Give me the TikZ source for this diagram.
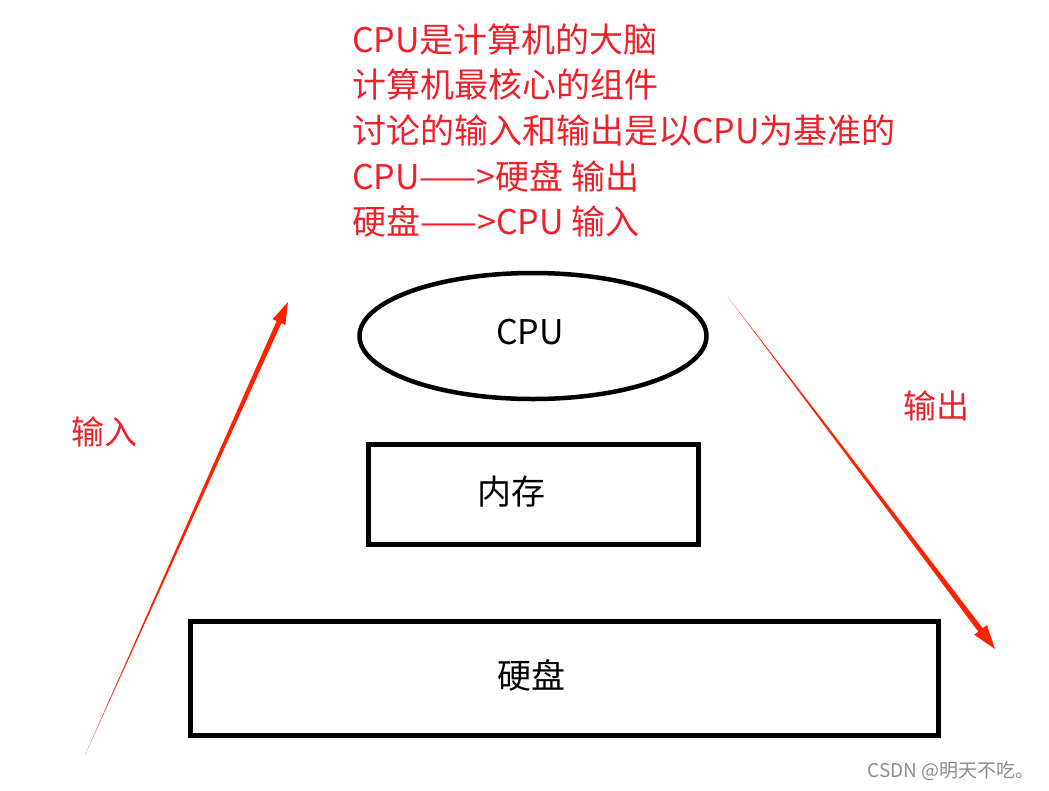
\documentclass[tikz,border=0pt]{standalone}
\usepackage{fontspec}
\newfontfamily\cjk{Noto Sans CJK SC}
\usetikzlibrary{calc,shapes.geometric}
\definecolor{txtred}{HTML}{F0202A}
\definecolor{arrred}{HTML}{FF2200}
\begin{document}
\begin{tikzpicture}[x=1pt,y=-1pt,
  redtxt/.style={text=txtred,font=\cjk\fontsize{34}{40}\selectfont,inner sep=0pt,anchor=base west},
  boxtxt/.style={font=\cjk\fontsize{34}{40}\selectfont,text=black},
  unit/.style={draw=black,line width=4.5pt},
  lbl/.style={text=txtred,font=\cjk\fontsize{33}{36}\selectfont}]
\useasboundingbox (0,0) rectangle (1049,790);
% explanatory text
\node[redtxt] (l1) at (352,52) {CPU是计算机的大脑};
\node[redtxt] (l2) at (352,97.5) {计算机最核心的组件};
\node[redtxt] (l3) at (352,143) {讨论的输入和输出是以CPU为基准的};
\node[redtxt] (l4) at (352,189) {CPU——>硬盘 输出};
\node[redtxt] (l5) at (352,234) {硬盘——>CPU 输入};
% components
\node[unit,ellipse,minimum width=347pt,minimum height=126pt,boxtxt] (cpu) at (533,336) {};
\node[boxtxt] (cputxt) at (530,332) {CPU};
\node[unit,rectangle,minimum width=330pt,minimum height=100pt,boxtxt] (mem) at (533.5,494.5) {};
\node[boxtxt] (memtxt) at (511,492) {内存};
\node[unit,rectangle,minimum width=748pt,minimum height=114pt,boxtxt] (disk) at (564.5,678.5) {};
\node[boxtxt] (disktxt) at (531,675) {硬盘};
% labels
\node[lbl] (in) at (104,432) {输入};
\node[lbl] (out) at (936,406) {输出};
% tapered arrows
\coordinate (as) at (85,755);
\coordinate (ae) at (288,302);
\coordinate (ah) at ($(ae)!22pt!(as)$);
\fill[arrred] (as) -- ($(ah)!2.6pt!90:(ae)$) -- ($(ah)!7pt!90:(ae)$) -- (ae)
  -- ($(ah)!7pt!-90:(ae)$) -- ($(ah)!2.6pt!-90:(ae)$) -- cycle;
\coordinate (bs) at (728,297);
\coordinate (be) at (995,649);
\coordinate (bh) at ($(be)!24pt!(bs)$);
\fill[arrred] (bs) -- ($(bh)!2.8pt!90:(be)$) -- ($(bh)!8pt!90:(be)$) -- (be)
  -- ($(bh)!8pt!-90:(be)$) -- ($(bh)!2.8pt!-90:(be)$) -- cycle;
% watermark
\node[text=black!45,font=\cjk\fontsize{19}{22}\selectfont,anchor=east] (wm) at (1038,771) {CSDN @明天不吃。};
\end{tikzpicture}
\end{document}
